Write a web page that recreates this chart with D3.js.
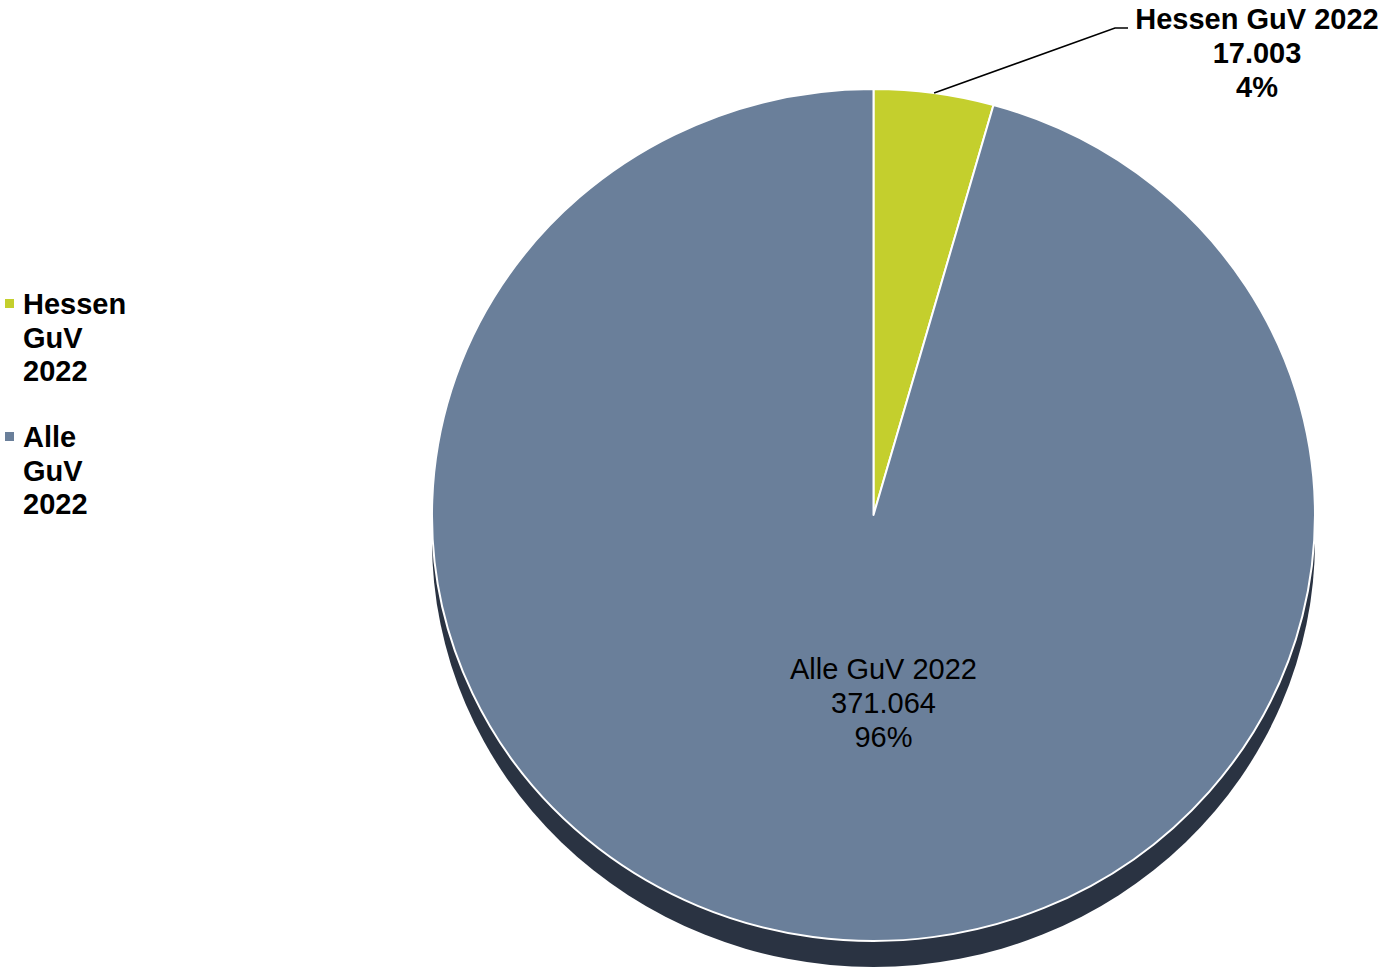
<!DOCTYPE html>
<html>
<head>
<meta charset="utf-8">
<script src="https://cdn.jsdelivr.net/npm/d3@7"></script>
<style>
  body { margin: 0; background: #fff; }
  text { font-family: "Liberation Sans", Arial, sans-serif; }
</style>
</head>
<body>
<svg></svg>
<script>
// data
const categories = ["Hessen GuV 2022", "Alle GuV 2022"];
const values = [17003, 371064];
const valueLabels = ["17.003", "371.064"];
const percentLabels = ["4%", "96%"];
const legendLines = [["Hessen", "GuV", "2022"], ["Alle", "GuV", "2022"]];
const colors = ["#c4cf2d", "#6a7f9a"];

const W = 1380, H = 970;
const cx = 873.5, cy = 515, rx = 441.5, ry = 426, depth = 26;

const svg = d3.select("svg").attr("width", W).attr("height", H);

// 3D side of the pie
svg.append("ellipse")
  .attr("cx", cx).attr("cy", cy + depth)
  .attr("rx", rx).attr("ry", ry)
  .attr("fill", "#2a3342");

// top surface
const pie = d3.pie().sort(null).value(d => d)(values);
const arc = d3.arc().innerRadius(0).outerRadius(rx);

const gTop = svg.append("g")
  .attr("transform", `translate(${cx},${cy}) scale(1,${ry / rx})`);

gTop.selectAll("path")
  .data(pie)
  .enter()
  .append("path")
  .attr("d", arc)
  .attr("fill", (d, i) => colors[i])
  .attr("stroke", "#fff")
  .attr("stroke-width", 2)
  .attr("stroke-linejoin", "round");

// leader line for the small slice
const a0 = (pie[0].startAngle + pie[0].endAngle) / 2;
const px = cx + rx * Math.sin(a0), py = cy - ry * Math.cos(a0);
svg.append("polyline")
  .attr("points", [[px, py], [1115, 28], [1128, 28]].map(p => p.join(",")).join(" "))
  .attr("fill", "none")
  .attr("stroke", "#000")
  .attr("stroke-width", 1.5);

const outLabel = svg.append("text")
  .attr("text-anchor", "middle")
  .attr("font-size", 29)
  .attr("font-weight", "bold")
  .attr("fill", "#000");
[categories[0], valueLabels[0], percentLabels[0]].forEach((t, i) => {
  outLabel.append("tspan").attr("x", 1257).attr("y", 29 + i * 34).text(t);
});

// inside label for the big slice
const inLabel = svg.append("text")
  .attr("text-anchor", "middle")
  .attr("font-size", 29)
  .attr("fill", "#000");
[categories[1], valueLabels[1], percentLabels[1]].forEach((t, i) => {
  inLabel.append("tspan").attr("x", cx + 10).attr("y", 679 + i * 34).text(t);
});

// legend
const legend = svg.append("g");
legendLines.forEach((lines, k) => {
  const y0 = 314 + k * 133;
  legend.append("rect")
    .attr("x", 5).attr("y", y0 - 15)
    .attr("width", 9).attr("height", 9)
    .attr("fill", colors[k]);
  const t = legend.append("text")
    .attr("font-size", 29)
    .attr("font-weight", "bold")
    .attr("fill", "#000");
  lines.forEach((l, i) => {
    t.append("tspan").attr("x", 23).attr("y", y0 + i * 33.5).text(l);
  });
});
</script>
</body>
</html>
